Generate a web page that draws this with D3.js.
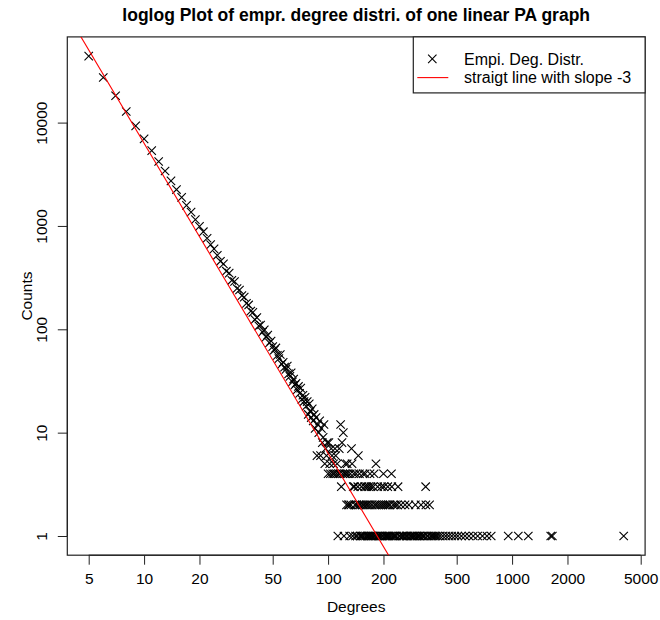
<html>
<head>
    <script src="https://d3js.org/d3.v7.min.js"></script>
    <title>loglog Plot</title>
</head>
<style>
    body { margin: 0; background: white; }
    text { font-family: "Liberation Sans", Arial, Helvetica, sans-serif; fill: black; }
</style>
<body>
<div id="chart"></div>
<script>
    // degree distribution, head part: one count per degree
    const headDegrees = [
        5, 6, 7, 8, 9, 10, 11, 12, 13, 14, 15, 16, 17, 18, 19, 20,
        21, 22, 23, 24, 25, 26, 27, 28, 29, 30, 31, 32, 33, 34, 35, 36, 37, 38, 39, 40,
        41, 42, 43, 44, 45, 46, 47, 48, 49, 50, 51, 52, 53, 54, 55, 56, 57, 58, 59, 60,
        61, 62, 63, 64, 65, 66, 67, 68, 69, 70, 71, 72, 73, 74, 75, 76, 77, 78, 79, 80,
        81, 82, 83, 84, 85, 86, 87, 88, 89, 90, 91, 92, 93, 94, 95, 96, 97, 98, 99, 100,
        101, 102, 103, 104, 105, 106, 107, 108, 109, 110, 111, 112, 113, 114, 115, 116, 117, 118, 119, 120,
        121, 122, 123, 124, 125
    ];
    const headCounts = [
        44000, 27300, 18200, 12800, 9300, 6950, 5350, 4200, 3400, 2730, 2250, 1890, 1580, 1360, 1150, 990,
        880, 760, 660, 600, 520, 455, 430, 365, 350, 298, 290, 248, 240, 212, 205, 178, 172, 150, 146, 124,
        130, 108, 110, 94, 99, 84, 88, 74, 77, 68, 63, 66, 56, 52, 57, 46, 48, 43, 41, 44,
        37, 35, 38, 31, 33, 29, 30, 26, 28, 24, 27, 21, 23, 20, 22, 18, 20, 15, 19, 16,
        14, 17, 13, 15, 11, 14, 6, 12, 10, 13, 6, 11, 8, 9, 12, 5, 7, 6, 8, 4,
        8, 5, 4, 7, 6, 4, 5, 4, 7, 6, 4, 5, 1, 4, 7, 4, 12, 3, 8, 4,
        10, 1, 4, 5, 4
    ];

    // tail part: degrees that occur 1..7 times
    const degreesSeen7 = [134];
    const degreesSeen6 = [146];
    const degreesSeen5 = [127, 135, 182];
    const degreesSeen4 = [128, 132, 138, 142, 148, 155, 159, 169, 178, 200, 221];
    const degreesSeen3 = [137, 139, 145, 152, 158, 162, 166, 171, 176, 186, 195, 201, 211, 222, 240, 339];
    const degreesSeen2 = [126, 129, 130, 133, 140, 143, 147, 150, 154, 157, 161, 164, 168, 173, 179, 183,
        188, 193, 198, 203, 208, 213, 217, 226, 232, 238, 249, 262, 275, 298, 320, 340, 356];
    const degreesSeen1 = [131, 136, 141, 144, 149, 151, 153, 156, 160, 163, 165, 167, 170, 172, 174, 177,
        180, 184, 187, 190, 192, 196, 199, 204, 206, 209, 212, 215, 219, 224, 228, 231, 235, 243, 246,
        252, 255, 258, 265, 268, 271, 279, 283, 287, 292, 296, 303, 307, 312, 316, 324, 329, 334, 345,
        350, 361, 366, 373, 379, 386, 394, 405, 420, 436, 452, 470, 489, 507, 530, 555, 583, 615, 650,
        690, 730, 770, 953, 1081, 1225, 1622, 1655, 4042];

    // reference line log10(y) = intercept + slope * log10(x)
    const lineSlope = -3;
    const lineIntercept = 6.8;

    const xTicks = [5, 10, 20, 50, 100, 200, 500, 1000, 2000, 5000];
    const yTicks = [1, 10, 100, 1000, 10000];
    const legendLabels = ["Empi. Deg. Distr.", "straigt line with slope -3"];

    //chart dimensions
    const W = 660, H = 620;
    const margin = ({top: 36.9, right: 14.9, bottom: 64.8, left: 67.3});
    const width = W - margin.left - margin.right;
    const height = H - margin.top - margin.bottom;

    var points = headDegrees.map((k, i) => ({k: k, c: headCounts[i]}));
    [degreesSeen1, degreesSeen2, degreesSeen3, degreesSeen4, degreesSeen5, degreesSeen6, degreesSeen7]
        .forEach((arr, i) => arr.forEach(k => points.push({k: k, c: i + 1})));

    // R style log range with 4% padding
    function padLog(ext) {
        var a = Math.log10(ext[0]), b = Math.log10(ext[1]), p = 0.04 * (b - a);
        return [Math.pow(10, a - p), Math.pow(10, b + p)];
    }
    var xScale = d3.scaleLog().domain(padLog(d3.extent(points, d => d.k))).range([0, width]);
    var yScale = d3.scaleLog().domain(padLog(d3.extent(points, d => d.c))).range([height, 0]);

    var svg = d3.select('#chart').append('svg')
        .attr('width', W)
        .attr('height', H)
        .style('display', 'block');

    var g = svg.append('g').attr('transform', `translate(${margin.left}, ${margin.top})`);

    svg.append('defs').append('clipPath').attr('id', 'plotclip')
        .append('rect').attr('width', width).attr('height', height)
        .attr('x', margin.left).attr('y', margin.top);

    // title
    svg.append('text')
        .attr('x', margin.left + width / 2)
        .attr('y', 21)
        .attr('text-anchor', 'middle')
        .style('font-weight', 'bold')
        .style('font-size', '17.5px')
        .text('loglog Plot of empr. degree distri. of one linear PA graph');

    // x axis
    var xAxis = g.append('g')
        .attr('transform', `translate(0, ${height})`)
        .call(d3.axisBottom(xScale).tickValues(xTicks).tickFormat(d3.format('d')).tickSize(9.5).tickPadding(3));
    xAxis.select('.domain').attr('d', `M${xScale(xTicks[0])},0H${xScale(xTicks[xTicks.length - 1])}`);
    xAxis.selectAll('text').attr('y', 28.5).attr('dy', null)
        .style('font-size', '15.5px').style('font-family', '"Liberation Sans", Arial, sans-serif');

    // y axis, labels parallel to the axis
    var yAxis = g.append('g')
        .call(d3.axisLeft(yScale).tickValues(yTicks).tickFormat(d3.format('d')).tickSize(9.5));
    yAxis.select('.domain').attr('d', `M0,${yScale(yTicks[0])}V${yScale(yTicks[yTicks.length - 1])}`);
    yAxis.selectAll('text')
        .attr('x', null).attr('dy', null)
        .attr('text-anchor', 'middle')
        .attr('transform', 'translate(-20.8, 0) rotate(-90)')
        .style('font-size', '15.5px').style('font-family', '"Liberation Sans", Arial, sans-serif');

    g.selectAll('.tick line').attr('stroke', '#222');

    svg.append('text')
        .attr('x', margin.left + width / 2)
        .attr('y', 612)
        .attr('text-anchor', 'middle')
        .style('font-size', '15.5px')
        .text('Degrees');

    svg.append('text')
        .attr('transform', `translate(32, ${margin.top + height / 2}) rotate(-90)`)
        .attr('text-anchor', 'middle')
        .style('font-size', '15.5px')
        .text('Counts');

    // reference line with slope -3, clipped to the plot box
    var lineX = xScale.domain();
    var refLine = lineX.map(x => ({x: x, y: Math.pow(10, lineIntercept + lineSlope * Math.log10(x))}));
    svg.append('path')
        .attr('clip-path', 'url(#plotclip)')
        .attr('d', d3.line().x(d => margin.left + xScale(d.x)).y(d => margin.top + yScale(d.y))(refLine))
        .attr('stroke', '#ff0000')
        .attr('stroke-width', 1.1)
        .attr('fill', 'none');

    // points drawn as crosses
    const cross = 'M-4.2,-4.2L4.2,4.2M-4.2,4.2L4.2,-4.2';
    g.selectAll('.pt')
        .data(points)
        .join('path')
        .attr('class', 'pt')
        .attr('d', cross)
        .attr('transform', d => `translate(${xScale(d.k)}, ${yScale(d.c)})`)
        .attr('stroke', 'black')
        .attr('stroke-width', 1.1)
        .attr('fill', 'none');

    // plot box
    g.append('rect')
        .attr('width', width).attr('height', height)
        .attr('fill', 'none').attr('stroke', '#222').attr('stroke-width', 1.2);

    // legend in the top right corner
    var legX = 413.3, legY = margin.top, legW = margin.left + width - legX, legH = 56;
    svg.append('rect')
        .attr('x', legX).attr('y', legY).attr('width', legW).attr('height', legH)
        .attr('fill', 'white').attr('stroke', '#222').attr('stroke-width', 1.2);
    svg.append('path')
        .attr('d', cross)
        .attr('transform', `translate(432.3, ${legY + 22})`)
        .attr('stroke', 'black').attr('stroke-width', 1.1).attr('fill', 'none');
    svg.append('line')
        .attr('x1', 417.3).attr('x2', 448.3)
        .attr('y1', legY + 40.7).attr('y2', legY + 40.7)
        .attr('stroke', '#ff0000').attr('stroke-width', 1.1);
    legendLabels.forEach(function(t, i) {
        svg.append('text')
            .attr('x', 464)
            .attr('y', legY + 22 + i * 18.7)
            .attr('dy', '0.35em')
            .style('font-size', '16px')
            .text(t);
    });
</script>
</body>
</html>
